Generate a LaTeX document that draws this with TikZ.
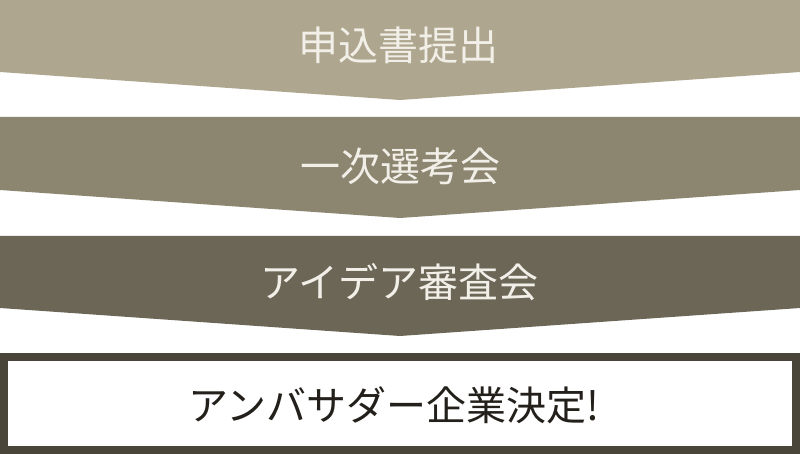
\documentclass[tikz,border=0pt]{standalone}
\usepackage{fontspec}
\usepackage{tikz}
\usepackage{xcolor}
\newfontfamily\jpfont{Noto Sans CJK JP}
\definecolor{stageA}{HTML}{AEA68E}
\definecolor{stageB}{HTML}{8C8670}
\definecolor{stageC}{HTML}{6B6656}
\definecolor{goalframe}{HTML}{4A4539}
\definecolor{cream}{HTML}{F1EFE8}
\definecolor{ink}{HTML}{231F1A}
\tikzset{
  stagelabel/.style={text=cream, inner sep=0pt, font=\jpfont\fontsize{40}{42}\selectfont},
  goallabel/.style={text=ink, inner sep=0pt, font=\jpfont\fontsize{40}{42}\selectfont}
}

\begin{document}
\begin{tikzpicture}[x=1pt, y=-1pt]
            \useasboundingbox (0,0) rectangle (800,454);
            \fill [stageA] (0,0) -- (800,0) -- (800,72) -- (400,100) -- (0,72) -- cycle;
            \fill [stageB] (0,117) -- (800,117) -- (800,190) -- (400,218) -- (0,190) -- cycle;
            \fill [stageC] (0,236) -- (800,236) -- (800,308) -- (400,336) -- (0,308) -- cycle;
            \fill [goalframe] (0,353) rectangle (800,454);
            \fill [white] (8,361) rectangle (792,446);
            \node [stagelabel] (apply) at (398,45) {申込書提出};
            \node [stagelabel] (first) at (400,166) {一次選考会};
            \node [stagelabel] (review) at (399,282) {アイデア審査会};
            \node [goallabel] (decided) at (394,405) {アンバサダー企業決定!};
        \end{tikzpicture}
\end{document}
